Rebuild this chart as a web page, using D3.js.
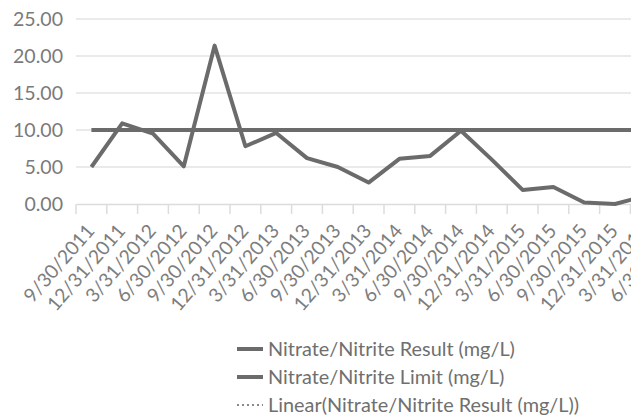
<!DOCTYPE html>
<html>
<head>
<meta charset="utf-8">
<script src="https://cdn.jsdelivr.net/npm/d3@7"></script>
<style>
	body{margin:0;background:#fff;overflow:hidden;}
	svg{display:block;}
</style>
</head>
<body>
<svg id="chart"></svg>
<script>

// quarters, the last ones run off the right edge of the photo
const categories = ['9/30/2011','12/31/2011','3/31/2012','6/30/2012','9/30/2012','12/31/2012','3/31/2013','6/30/2013','9/30/2013','12/31/2013','3/31/2014','6/30/2014','9/30/2014','12/31/2014','3/31/2015','6/30/2015','9/30/2015','12/31/2015','3/31/2016','6/30/2016']
const resultValues = [5.0,10.9,9.5,5.1,21.4,7.8,9.6,6.2,5.0,2.9,6.1,6.5,9.9,6.0,1.9,2.3,0.2,0.0,1.1,null]
const limitValues = [10,10,10,10,10,10,10,10,10,10,10,10,10,10,10,10,10,10,10,10]
const yTicks = [0,5,10,15,20,25]
const legendLabels = ['Nitrate/Nitrite Result (mg/L)','Nitrate/Nitrite Limit (mg/L)','Linear(Nitrate/Nitrite Result (mg/L))']

let outer_width = 631
let outer_height = 420

let plot = {
	left: 76,
	right: 692,
	top: 19,
	bottom: 204
}

const font = 'Lato, "Open Sans", sans-serif'
const lineColor = '#6b6b6b'

const svg = d3.select('#chart')
	.attr('width', outer_width)
	.attr('height', outer_height)
	.style('font-family', font)

// scale a group of texts so that one sample string gets the wanted width
const fitFont = (sel, sample, target)=>{
	let probe = svg.append('text').text(sample).attr('font-size', '20px')
	let w = probe.node().getComputedTextLength()
	probe.remove()
	sel.attr('font-size', `${20 * target / w}px`)
}

const xScale = d3.scaleBand()
	.domain(categories)
	.range([plot.left, plot.right])

const yScale = d3.scaleLinear()
	.domain([0, 25])
	.range([plot.bottom, plot.top])

const cx = (c)=> xScale(c) + xScale.bandwidth() / 2

// gridlines
svg.append('g')
	.selectAll('line')
	.data(yTicks.filter(t => t > 0))
	.enter()
	.append('line')
	.attr('x1', plot.left)
	.attr('x2', outer_width)
	.attr('y1', d => yScale(d))
	.attr('y2', d => yScale(d))
	.attr('stroke', '#e3e3e3')
	.attr('stroke-width', 1.5)

// y labels
const yLabels = svg.append('g')
	.selectAll('text')
	.data(yTicks)
	.enter()
	.append('text')
	.text(d => d.toFixed(2))
	.attr('x', 63)
	.attr('y', d => yScale(d))
	.attr('dy', '0.35em')
	.attr('text-anchor', 'end')
	.attr('fill', '#7a7a7a')

fitFont(yLabels, '25.00', 50)

// x axis, ticks between categories
const axisX = svg.append('g')
	.attr('transform', `translate(0,${plot.bottom})`)
	.call(d3.axisBottom(xScale).tickSize(0).tickFormat(''))

axisX.select('.domain').attr('stroke', '#dcdcdc').attr('stroke-width', 1.5)

axisX.selectAll('.sep')
	.data(categories)
	.enter()
	.append('line')
	.classed('sep', true)
	.attr('x1', d => xScale(d))
	.attr('x2', d => xScale(d))
	.attr('y1', 0)
	.attr('y2', 10)
	.attr('stroke', '#dcdcdc')
	.attr('stroke-width', 1.5)

const xLabels = svg.append('g')
	.selectAll('text')
	.data(categories)
	.enter()
	.append('text')
	.text(d => d)
	.attr('transform', d => `translate(${cx(d) - 1},${plot.bottom + 23}) rotate(-49)`)
	.attr('dy', '0.35em')
	.attr('text-anchor', 'end')
	.attr('fill', '#7d7d7d')

fitFont(xLabels, '9/30/2011', 96)

// series
const line = d3.line()
	.defined(d => d.v != null)
	.x(d => cx(d.c))
	.y(d => yScale(d.v))

svg.append('path')
	.datum(categories.map((c, i) => ({c: c, v: limitValues[i]})))
	.attr('d', line)
	.attr('fill', 'none')
	.attr('stroke', lineColor)
	.attr('stroke-width', 4)

svg.append('path')
	.datum(categories.map((c, i) => ({c: c, v: resultValues[i]})))
	.attr('d', line)
	.attr('fill', 'none')
	.attr('stroke', lineColor)
	.attr('stroke-width', 4)
	.attr('stroke-linejoin', 'round')

// legend
const legend = svg.append('g')
	.selectAll('g')
	.data(legendLabels)
	.enter()
	.append('g')
	.attr('transform', (d, i) => `translate(237,${349 + i * 28})`)

legend.append('line')
	.attr('x1', 0)
	.attr('x2', 26)
	.attr('stroke', (d, i) => i == 2 ? '#8a8a8a' : lineColor)
	.attr('stroke-width', (d, i) => i == 2 ? 2 : 4)
	.attr('stroke-dasharray', (d, i) => i == 2 ? '2,3' : null)

const legendText = legend.append('text')
	.text(d => d)
	.attr('x', 31)
	.attr('dy', '0.35em')
	.attr('fill', '#6f6f6f')

fitFont(legendText, legendLabels[0], 247)

</script>
</body>
</html>
